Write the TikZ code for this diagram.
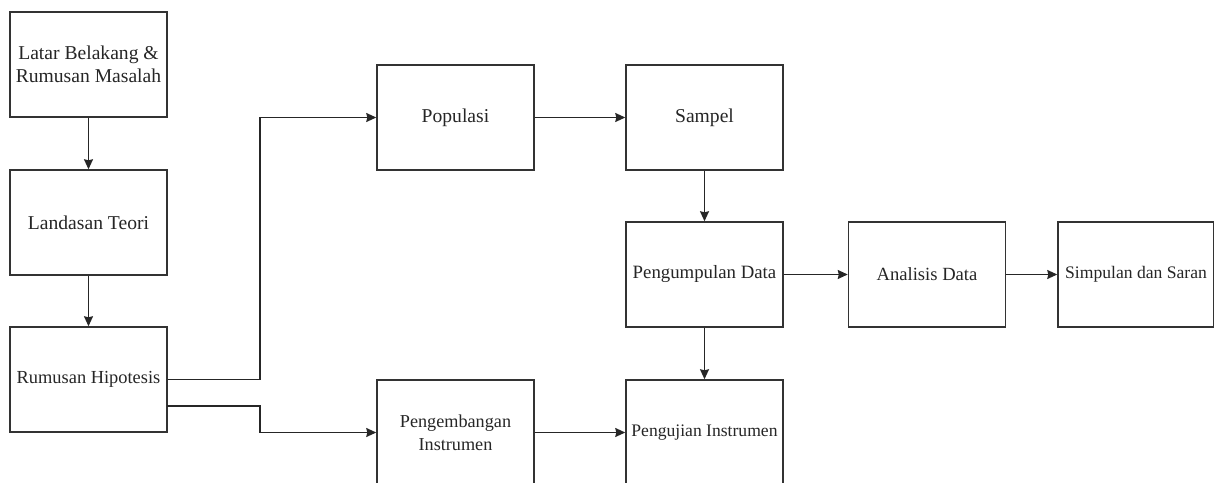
\documentclass[tikz,border=0pt]{standalone}
\usepackage{fontspec}
\setmainfont{Liberation Serif}
\usetikzlibrary{shapes,arrows.meta}

\newcommand{\ukuran}[1]{\fontsize{#1}{11.5}\selectfont}

\begin{document}
\begin{tikzpicture}[x=0.5pt,y=-0.5pt,
  kotak/.style={draw=black!80,line width=0.75pt,fill=white,minimum width=78.5pt,minimum height=52.5pt,align=center,inner sep=0pt,text=black!85,font=\ukuran{9.8}},
  panah/.style={-{Stealth[length=5pt,width=4.5pt,inset=0.5pt]},draw=black!85,line width=0.75pt}]
\useasboundingbox (0,0) rectangle (1214,482);
\clip (0,0) rectangle (1214,482);
%\pgfsetlinewidth{.5pt}
\node[kotak] (latar) at (88.5,64.5) {Latar Belakang \&\\Rumusan Masalah};
\node[kotak] (teori) at (88.5,222.5) {Landasan Teori};
\node[kotak,font=\ukuran{9.2}] (hipotesis) at (88.5,379.5) {Rumusan Hipotesis};
\node[kotak] (populasi) at (455.5,117.5) {Populasi};
\node[kotak] (sampel) at (704.5,117.5) {Sampel};
\node[kotak,font=\ukuran{9.4}] (kumpul) at (704.5,274.5) {Pengumpulan Data};
\node[kotak,font=\ukuran{9.3}] (analisis) at (927,274.5) {Analisis Data};
\node[kotak,minimum width=78pt,font=\ukuran{8.8}] (simpulan) at (1136,274.5) {Simpulan dan Saran};
\node[kotak,font=\ukuran{9.1}] (kembang) at (455.5,432.5) {Pengembangan\\Instrumen};
\node[kotak,font=\ukuran{8.8}] (uji) at (704.5,432.5) {Pengujian Instrumen};
\coordinate (hip2) at (167,406);
\draw[panah] (latar) -- (teori);
\draw[panah] (teori) -- (hipotesis);
\draw[panah] (hipotesis.east) -- (260,379.5) |- (populasi.west);
\draw[panah] (hip2) -- (260,406) |- (kembang.west);
\draw[panah] (populasi) -- (sampel);
\draw[panah] (sampel) -- (kumpul);
\draw[panah] (kumpul) -- (uji);
\draw[panah] (kembang) -- (uji);
\draw[panah] (kumpul) -- (analisis);
\draw[panah] (analisis) -- (simpulan);
\end{tikzpicture}
\end{document}
